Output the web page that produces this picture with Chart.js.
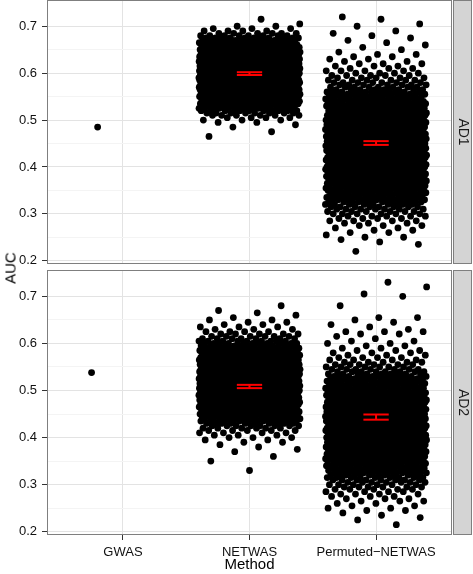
<!DOCTYPE html>
<html>
<head>
<meta charset="utf-8">
<script src="https://cdn.jsdelivr.net/npm/chart.js@4.4.1/dist/chart.umd.min.js"></script>
<style>
  html, body { margin: 0; padding: 0; background: #fff; }
  body { width: 473px; height: 574px; position: relative; overflow: hidden; font-family: "Liberation Sans", Arial, sans-serif; }
  .panel { position: absolute; left: 0; }
  #top { top: 0; }
  #bottom { top: 270px; }
  #ylab { position: absolute; left: 10px; top: 268px; transform: translate(-50%, -50%) rotate(-90deg); font-size: 15px; color: #000; white-space: nowrap; }
</style>
</head>
<body>
<div class="panel" id="top"><canvas id="ad1" width="473" height="266"></canvas></div>
<div class="panel" id="bottom"><canvas id="ad2" width="473" height="304"></canvas></div>
<div id="ylab">AUC</div>
<script>
const categories = ['GWAS', 'NETWAS', 'Permuted\u2212NETWAS'];
const yMajor = [0.2, 0.3, 0.4, 0.5, 0.6, 0.7];
const yMinor = [0.25, 0.35, 0.45, 0.55, 0.65];

// single GWAS AUC per dataset
const gwasAD1 = [0.485];
const gwasAD2 = [0.538];

// number of runs at each AUC level, 0.005 apart, starting at *Start
const netwasAD1Start = 0.465;
const netwasAD1 = [1,0,1,0,1,1,2,3,4,6, 8,11,14,17,20,23,26,28,30,32, 33,34,35,36,36,37,37,37,37,36, 36,35,34,33,32,30,28,26,23,20, 17,14,11,8,6,4,3,2,1,0, 1];
const permAD1Start = 0.215;
const permAD1 = [0,1,0,0,1,1,1,2,1,2, 2,2,3,3,4,4,5,6,6,7, 8,9,10,11,12,13,14,15,16,17, 18,18,19,19,20,20,21,21,21,22,
  22,22,22,22,22,22,22,22,22,22, 22,22,21,21,21,20,20,19,19,18, 18,17,16,15,15,14,13,12,11,10, 9,8,7,7,6,5,5,4,4,3,
  3,3,2,2,2,2,1,1,1,1, 1,1,1,1,1,1,0,1,1,0, 1,1];
const netwasAD2Start = 0.33;
const netwasAD2 = [1,0,0,0,1,0,1,0,1,1, 1,1,2,2,3,3,4,5,6,8, 10,12,14,16,18,20,22,24,26,28, 29,30,31,32,33,33,34,34,34,34,
  33,33,32,31,30,29,27,25,23,21, 19,17,15,13,11,9,7,6,5,4, 3,3,2,2,2,1,1,1,1,0, 1];
const permAD2Start = 0.215;
const permAD2 = [1,0,1,1,1,1,2,2,2,2, 3,3,3,4,4,5,6,6,7,8, 9,10,11,12,13,14,15,16,17,18, 18,19,19,20,20,21,21,21,22,22,
  22,22,22,22,22,22,22,22,21,21, 21,20,20,19,19,18,17,16,15,14, 13,12,11,10,9,8,7,6,6,5, 4,4,3,3,3,2,2,2,2,1,
  1,2,3,1,1,1,1,1,2,0, 0,0,0,1,0,0,0,1,1,0, 0,1,0,1];

// error bars (NETWAS, Permuted-NETWAS)
const ciLowAD1 = [0.596, 0.447];
const ciHighAD1 = [0.602, 0.455];
const ciLowAD2 = [0.505, 0.438];
const ciHighAD2 = [0.512, 0.449];

const FONT = '"Liberation Sans", Arial, sans-serif';
const STEP = 0.005;
const JITTER = 0.4;
const PHI = 0.6180339887;

const isMajor = v => yMajor.some(m => Math.abs(m - v) < 1e-6);

function jittered(cat, values, seed) {
  return values.map((y, k) => ({ x: cat + (((seed + k * PHI) % 1) - 0.5) * 2 * JITTER, y }));
}

function expand(start, counts) {
  const out = [];
  counts.forEach((n, i) => {
    const y = +(start + i * STEP).toFixed(3);
    for (let j = 0; j < n; j++) out.push(y);
  });
  return out;
}

function errorBars(lo, hi) {
  const sets = [];
  [2, 3].forEach((c, i) => {
    const segs = [
      [{ x: c - 0.1, y: hi[i] }, { x: c + 0.1, y: hi[i] }],
      [{ x: c - 0.1, y: lo[i] }, { x: c + 0.1, y: lo[i] }],
      [{ x: c, y: lo[i] }, { x: c, y: hi[i] }],
    ];
    segs.forEach(d => sets.push({
      data: d, showLine: true, borderColor: '#ff0000', borderWidth: 2,
      pointRadius: 0, order: 0,
    }));
  });
  return sets;
}

function pointSet(data) {
  return {
    data, pointRadius: 3.4, pointBorderWidth: 0,
    pointBackgroundColor: '#000', order: 2,
  };
}

const panelFrame = {
  id: 'panelFrame',
  afterDraw(chart, args, opts) {
    const { ctx, chartArea: a } = chart;
    ctx.save();
    ctx.strokeStyle = '#7f7f7f';
    ctx.lineWidth = 1;
    const l = Math.round(a.left) + 0.5, t = Math.round(a.top) + 0.5;
    const r = Math.round(a.right) - 0.5, b = Math.round(a.bottom) - 0.5;
    ctx.strokeRect(l, t, r - l, b - t);
    const sl = r + 2, sr = chart.width - 1.5;
    ctx.fillStyle = '#d4d4d4';
    ctx.fillRect(sl, t, sr - sl, b - t);
    ctx.strokeRect(sl, t, sr - sl, b - t);
    ctx.translate((sl + sr) / 2, (t + b) / 2);
    ctx.rotate(Math.PI / 2);
    ctx.fillStyle = '#1a1a1a';
    ctx.font = '14px ' + FONT;
    ctx.textAlign = 'center';
    ctx.textBaseline = 'middle';
    ctx.fillText(opts.label, 0, 0);
    ctx.restore();
  },
};

function makeChart(id, label, datasets, bottom) {
  return new Chart(document.getElementById(id), {
    type: 'scatter',
    data: { datasets },
    options: {
      responsive: false,
      animation: false,
      events: [],
      layout: { autoPadding: false, padding: { top: 0, right: 21, bottom: 0, left: 0 } },
      plugins: {
        legend: { display: false },
        tooltip: { enabled: false },
        panelFrame: { label },
      },
      scales: {
        x: {
          type: 'linear',
          min: 0.4,
          max: 3.6,
          afterBuildTicks: s => { s.ticks = categories.map((c, i) => ({ value: i + 1 })); },
          afterFit: s => { s.height = bottom ? 39 : 2; s.paddingLeft = 0; s.paddingRight = 0; },
          ticks: {
            display: bottom, autoSkip: false, maxRotation: 0, padding: 5,
            color: '#111', font: { family: FONT, size: 13 },
            callback: v => categories[Math.round(v) - 1],
          },
          grid: { color: '#e3e3e3', drawTicks: bottom, tickLength: 5, tickColor: '#333' },
          border: { display: false },
          title: {
            display: bottom, text: 'Method', color: '#000',
            font: { family: FONT, size: 15 }, padding: { top: 0, bottom: 0 },
          },
        },
        y: {
          type: 'linear',
          min: 0.193,
          max: 0.756,
          afterBuildTicks: s => {
            s.ticks = yMajor.concat(yMinor).sort((a, b) => a - b).map(v => ({ value: v }));
          },
          afterFit: s => { s.width = 47; s.paddingTop = 0; s.paddingBottom = 0; },
          ticks: {
            autoSkip: false, padding: 5, color: '#111',
            font: { family: FONT, size: 13 },
            callback: v => (isMajor(v) ? v.toFixed(1) : ''),
          },
          grid: {
            color: c => (isMajor(c.tick.value) ? '#e3e3e3' : '#f4f4f4'),
            tickColor: c => (isMajor(c.tick.value) ? '#333' : 'rgba(0,0,0,0)'),
            tickLength: 5,
          },
          border: { display: false },
        },
      },
    },
    plugins: [panelFrame],
  });
}

makeChart('ad1', 'AD1', [
  ...errorBars(ciLowAD1, ciHighAD1),
  pointSet(jittered(1, gwasAD1, 0.25)),
  pointSet(jittered(2, expand(netwasAD1Start, netwasAD1), 0.1)),
  pointSet(jittered(3, expand(permAD1Start, permAD1), 0.3)),
], false);

makeChart('ad2', 'AD2', [
  ...errorBars(ciLowAD2, ciHighAD2),
  pointSet(jittered(1, gwasAD2, 0.19)),
  pointSet(jittered(2, expand(netwasAD2Start, netwasAD2), 0.5)),
  pointSet(jittered(3, expand(permAD2Start, permAD2), 0.7)),
], true);
</script>
</body>
</html>
